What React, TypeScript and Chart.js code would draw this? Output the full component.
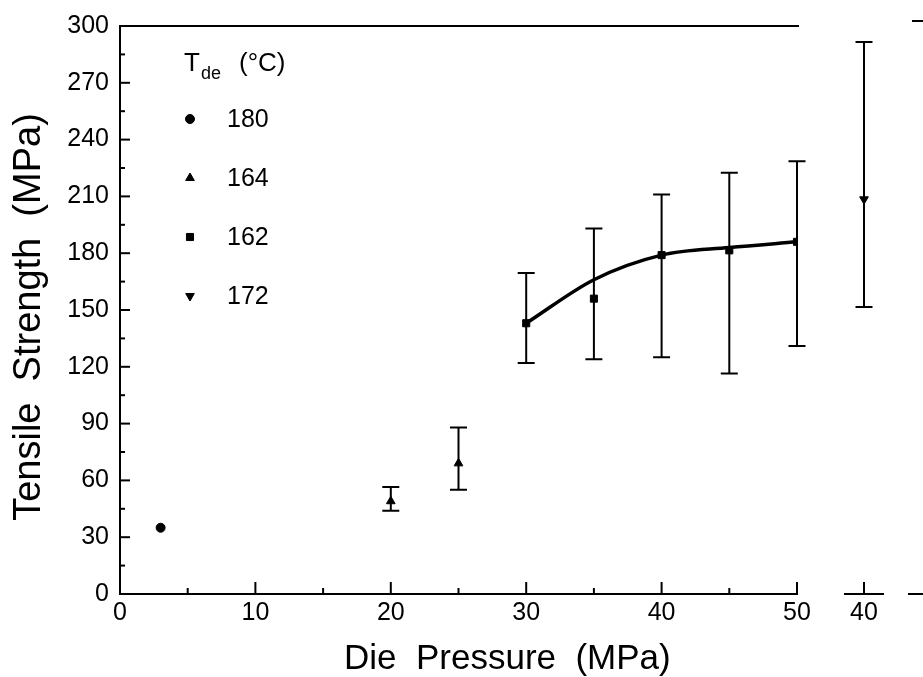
import React, { useEffect, useRef } from 'react';
import { Chart, registerables } from 'chart.js';
import { drawPoint } from 'chart.js/helpers';

Chart.register(...registerables);

// ---- data ----
const pressure180 = [3];
const strength180 = [35];

const pressure164 = [20, 25];
const strength164 = [49, 69];
const low164 = [44, 55];
const high164 = [56.5, 88];

const pressure162 = [30, 35, 40, 45, 50];
const strength162 = [143, 156, 179, 181.5, 186];
const low162 = [122, 124, 125, 116.5, 131];
const high162 = [169.5, 193, 211, 222.5, 228.5];

const fitPressure = [30, 35, 40, 45, 50];
const fitStrength = [143, 166, 179, 183, 186];

const pressure172 = [40];
const strength172 = [207];
const low172 = [150.5];
const high172 = [289.5];

const xMajor = [0, 10, 20, 30, 40, 50];
const xMinor = [5, 15, 25, 35, 45];
const yMajor = [0, 30, 60, 90, 120, 150, 180, 210, 240, 270, 300];
const yMinor = [15, 45, 75, 105, 135, 165, 195, 225, 255, 285];
const breakTicks = [40];

const legendTemps = ['180', '164', '162', '172'];
const legendStyles = [
  { pointStyle: 'circle', radius: 4.5, rotation: 0 },
  { pointStyle: 'triangle', radius: 5, rotation: 0 },
  { pointStyle: 'rect', radius: 5, rotation: 0 },
  { pointStyle: 'triangle', radius: 5, rotation: 180 },
];

const xTitle = 'Die  Pressure  (MPa)';
const yTitle = 'Tensile  Strength  (MPa)';

const FONT = '"Liberation Sans", Arial, Helvetica, sans-serif';
const TICK_SIZE = 25;

const pts = (xs: number[], ys: number[]) => xs.map((x, i) => ({ x, y: ys[i] }));

const errorBarPlugin = {
  id: 'errorBars',
  beforeDatasetsDraw(chart: any) {
    const ctx = chart.ctx;
    const ys = chart.scales.y;
    ctx.save();
    ctx.strokeStyle = '#000';
    ctx.lineWidth = 2;
    chart.data.datasets.forEach((ds: any, i: number) => {
      if (!ds.errLow) return;
      const meta = chart.getDatasetMeta(i);
      meta.data.forEach((el: any, j: number) => {
        const x = el.x;
        const y1 = ys.getPixelForValue(ds.errLow[j]);
        const y2 = ys.getPixelForValue(ds.errHigh[j]);
        ctx.beginPath();
        ctx.moveTo(x, y1);
        ctx.lineTo(x, y2);
        ctx.moveTo(x - 8.5, y1);
        ctx.lineTo(x + 8.5, y1);
        ctx.moveTo(x - 8.5, y2);
        ctx.lineTo(x + 8.5, y2);
        ctx.stroke();
      });
    });
    ctx.restore();
  },
};

const tickMarkPlugin = (xMaj: number[], yMaj: number[] | null) => ({
  id: 'tickMarks',
  afterDraw(chart: any) {
    const ctx = chart.ctx;
    const xs = chart.scales.x;
    ctx.save();
    ctx.strokeStyle = '#000';
    ctx.lineWidth = 2;
    xs.ticks.forEach((t: any) => {
      const px = xs.getPixelForValue(t.value);
      const len = xMaj.includes(t.value) ? 12 : 6;
      ctx.beginPath();
      ctx.moveTo(px, xs.top);
      ctx.lineTo(px, xs.top - len);
      ctx.stroke();
    });
    if (yMaj) {
      const ys = chart.scales.y;
      ys.ticks.forEach((t: any) => {
        const py = ys.getPixelForValue(t.value);
        const len = yMaj.includes(t.value) ? 10 : 5;
        ctx.beginPath();
        ctx.moveTo(ys.right, py);
        ctx.lineTo(ys.right + len, py);
        ctx.stroke();
      });
      // top frame line
      const ca = chart.chartArea;
      ctx.beginPath();
      ctx.moveTo(ca.left - 1, ca.top);
      ctx.lineTo(ca.right + 2, ca.top);
      ctx.stroke();
    }
    ctx.restore();
  },
});

const annotationPlugin = {
  id: 'annot',
  afterDraw(chart: any) {
    const ctx = chart.ctx;
    ctx.save();
    ctx.fillStyle = '#000';
    ctx.strokeStyle = '#000';
    // axis titles
    ctx.font = `35px ${FONT}`;
    ctx.textAlign = 'left';
    ctx.textBaseline = 'alphabetic';
    ctx.fillText(xTitle, 344, 669);
    ctx.save();
    ctx.translate(40, 317);
    ctx.rotate(-Math.PI / 2);
    ctx.font = `38px ${FONT}`;
    ctx.textAlign = 'center';
    ctx.fillText(yTitle, 0, 0);
    ctx.restore();
    // legend title: T_de (°C)
    ctx.font = `26px ${FONT}`;
    ctx.textAlign = 'left';
    ctx.fillText('T', 184, 71);
    ctx.font = `18px ${FONT}`;
    ctx.fillText('de', 201, 79);
    ctx.font = `26px ${FONT}`;
    ctx.fillText('(°C)', 239, 71);
    // legend entries
    ctx.font = `${TICK_SIZE}px ${FONT}`;
    ctx.textBaseline = 'middle';
    legendTemps.forEach((t, i) => {
      const y = 119 + i * 59;
      const st = legendStyles[i];
      ctx.lineWidth = 1;
      drawPoint(ctx, { pointStyle: st.pointStyle, radius: st.radius, rotation: st.rotation, borderWidth: 1 } as any, 190, y);
      ctx.fillText(t, 227, y + 1);
    });
    ctx.restore();
  },
};

const breakDecorPlugin = {
  id: 'breakDecor',
  afterDraw(chart: any) {
    const ctx = chart.ctx;
    const ca = chart.chartArea;
    ctx.save();
    ctx.strokeStyle = '#000';
    ctx.lineWidth = 2;
    ctx.beginPath();
    ctx.moveTo(908, ca.bottom);
    ctx.lineTo(923, ca.bottom);
    ctx.moveTo(912, ca.top - 1);
    ctx.lineTo(923, ca.top - 1);
    ctx.stroke();
    ctx.restore();
  },
};

const tickFont = { family: FONT, size: TICK_SIZE };

function mainConfig(): any {
  return {
    type: 'scatter',
    data: {
      datasets: [
        {
          label: 'fit',
          data: pts(fitPressure, fitStrength),
          showLine: true,
          borderColor: '#000',
          borderWidth: 3.5,
          pointRadius: 0,
          cubicInterpolationMode: 'monotone',
          fill: false,
        },
        {
          label: '180',
          data: pts(pressure180, strength180),
          pointStyle: 'circle',
          pointRadius: 4.5,
          backgroundColor: '#000',
          borderColor: '#000',
          borderWidth: 1,
        },
        {
          label: '164',
          data: pts(pressure164, strength164),
          errLow: low164,
          errHigh: high164,
          pointStyle: 'triangle',
          pointRadius: 5,
          backgroundColor: '#000',
          borderColor: '#000',
          borderWidth: 1,
        },
        {
          label: '162',
          data: pts(pressure162, strength162),
          errLow: low162,
          errHigh: high162,
          pointStyle: 'rect',
          pointRadius: 5,
          backgroundColor: '#000',
          borderColor: '#000',
          borderWidth: 1,
        },
      ],
    },
    options: {
      animation: false,
      responsive: false,
      events: [],
      layout: { padding: { left: 0, right: 126, top: 22, bottom: 0 } },
      plugins: { legend: { display: false }, tooltip: { enabled: false } },
      scales: {
        x: {
          type: 'linear',
          min: 0,
          max: 50,
          afterBuildTicks: (s: any) => {
            s.ticks = [...xMajor, ...xMinor].sort((a, b) => a - b).map((v) => ({ value: v }));
          },
          afterFit: (s: any) => {
            s.height = 83;
          },
          grid: { display: false, drawTicks: false },
          border: { display: true, color: '#000', width: 2 },
          ticks: {
            autoSkip: false,
            maxRotation: 0,
            padding: 4,
            color: '#000',
            font: tickFont,
            callback: (v: any) => (xMajor.includes(v) ? String(v) : ''),
          },
        },
        y: {
          type: 'linear',
          min: 0,
          max: 300,
          afterBuildTicks: (s: any) => {
            s.ticks = [...yMajor, ...yMinor].sort((a, b) => a - b).map((v) => ({ value: v }));
          },
          afterFit: (s: any) => {
            s.width = 120;
          },
          grid: { display: false, drawTicks: false },
          border: { display: true, color: '#000', width: 2 },
          ticks: {
            autoSkip: false,
            padding: 11,
            color: '#000',
            font: tickFont,
            callback: (v: any) => (yMajor.includes(v) ? String(v) : ''),
          },
        },
      },
    },
    plugins: [errorBarPlugin, tickMarkPlugin(xMajor, yMajor), annotationPlugin],
  };
}

function breakConfig(): any {
  return {
    type: 'scatter',
    data: {
      datasets: [
        {
          label: '172',
          data: pts(pressure172, strength172),
          errLow: low172,
          errHigh: high172,
          pointStyle: 'triangle',
          rotation: 180,
          pointRadius: 5,
          backgroundColor: '#000',
          borderColor: '#000',
          borderWidth: 1,
        },
      ],
    },
    options: {
      animation: false,
      responsive: false,
      events: [],
      layout: { padding: { left: 845, right: 40, top: 22, bottom: 0 } },
      plugins: { legend: { display: false }, tooltip: { enabled: false } },
      scales: {
        x: {
          type: 'linear',
          min: 38.5,
          max: 41.5,
          afterBuildTicks: (s: any) => {
            s.ticks = breakTicks.map((v) => ({ value: v }));
          },
          afterFit: (s: any) => {
            s.height = 83;
          },
          grid: { display: false, drawTicks: false },
          border: { display: true, color: '#000', width: 2 },
          ticks: {
            autoSkip: false,
            maxRotation: 0,
            padding: 4,
            color: '#000',
            font: tickFont,
            callback: (v: any) => String(v),
          },
        },
        y: { type: 'linear', min: 0, max: 300, display: false },
      },
    },
    plugins: [errorBarPlugin, tickMarkPlugin(breakTicks, null), breakDecorPlugin],
  };
}

export default function App() {
  const mainRef = useRef<HTMLCanvasElement>(null);
  const breakRef = useRef<HTMLCanvasElement>(null);
  useEffect(() => {
    const c1 = new Chart(mainRef.current as HTMLCanvasElement, mainConfig());
    const c2 = new Chart(breakRef.current as HTMLCanvasElement, breakConfig());
    return () => {
      c1.destroy();
      c2.destroy();
    };
  }, []);
  return (
    <div style={{ position: 'fixed', left: 0, top: 0, width: 923, height: 677, background: '#fff' }}>
      <canvas ref={mainRef} width={923} height={677} style={{ position: 'absolute', left: 0, top: 0 }} />
      <canvas ref={breakRef} width={923} height={677} style={{ position: 'absolute', left: 0, top: 0 }} />
    </div>
  );
}
